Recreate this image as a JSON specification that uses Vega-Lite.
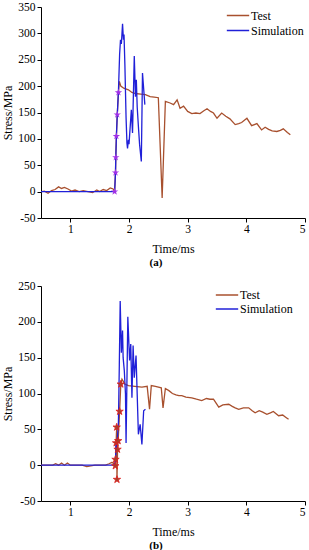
{
  "$schema": "https://vega.github.io/schema/vega-lite/v6.json",
  "padding": {"left": 1, "top": 1, "right": 2, "bottom": 1},
  "background": "white",
  "config": {
    "locale": {"number": {"decimal": ".", "thousands": ",", "grouping": [3], "currency": ["$", ""], "minus": "-"}},
    "view": {"stroke": null},
    "font": "Liberation Serif, Times New Roman, serif",
    "axis": {
      "domainColor": "#000000", "tickColor": "#000000", "labelColor": "#000000", "titleColor": "#000000",
      "labelFont": "Liberation Serif, Times New Roman, serif", "titleFont": "Liberation Serif, Times New Roman, serif",
      "labelFontSize": 11.5, "titleFontSize": 12, "titleFontWeight": "normal",
      "grid": false, "domainWidth": 1, "tickWidth": 1, "labelOverlap": false
    },
    "legend": {"labelFont": "Liberation Serif, Times New Roman, serif", "labelFontSize": 12, "labelColor": "#000000"}
  },
  "datasets": {
    "a": [
      {"t": 0.50, "v": 0, "series": "Test"}, {"t": 0.56, "v": 1, "series": "Test"}, {"t": 0.62, "v": -3, "series": "Test"},
      {"t": 0.68, "v": 2, "series": "Test"}, {"t": 0.74, "v": 4, "series": "Test"}, {"t": 0.80, "v": 9, "series": "Test"},
      {"t": 0.85, "v": 6, "series": "Test"}, {"t": 0.90, "v": 8, "series": "Test"}, {"t": 0.96, "v": 5, "series": "Test"},
      {"t": 1.02, "v": 1, "series": "Test"}, {"t": 1.08, "v": 3, "series": "Test"}, {"t": 1.15, "v": 0, "series": "Test"},
      {"t": 1.22, "v": 2, "series": "Test"}, {"t": 1.30, "v": 0, "series": "Test"}, {"t": 1.38, "v": -2, "series": "Test"},
      {"t": 1.45, "v": 3, "series": "Test"}, {"t": 1.50, "v": 0, "series": "Test"}, {"t": 1.56, "v": 4, "series": "Test"},
      {"t": 1.62, "v": 2, "series": "Test"}, {"t": 1.68, "v": 7, "series": "Test"}, {"t": 1.73, "v": 5, "series": "Test"},
      {"t": 1.755, "v": 0, "series": "Test"}, {"t": 1.77, "v": 36, "series": "Test"}, {"t": 1.775, "v": 65, "series": "Test"},
      {"t": 1.785, "v": 105, "series": "Test"}, {"t": 1.80, "v": 146, "series": "Test"}, {"t": 1.82, "v": 188, "series": "Test"},
      {"t": 1.835, "v": 209, "series": "Test"}, {"t": 1.86, "v": 200, "series": "Test"}, {"t": 1.91, "v": 196, "series": "Test"},
      {"t": 1.99, "v": 193, "series": "Test"}, {"t": 2.05, "v": 188, "series": "Test"}, {"t": 2.11, "v": 186, "series": "Test"},
      {"t": 2.20, "v": 185, "series": "Test"}, {"t": 2.28, "v": 184, "series": "Test"}, {"t": 2.36, "v": 180, "series": "Test"},
      {"t": 2.43, "v": 179, "series": "Test"}, {"t": 2.50, "v": 178, "series": "Test"}, {"t": 2.565, "v": -12, "series": "Test"},
      {"t": 2.62, "v": 171, "series": "Test"}, {"t": 2.70, "v": 168, "series": "Test"}, {"t": 2.76, "v": 165, "series": "Test"},
      {"t": 2.82, "v": 174, "series": "Test"}, {"t": 2.87, "v": 158, "series": "Test"}, {"t": 2.93, "v": 162, "series": "Test"},
      {"t": 3.00, "v": 152, "series": "Test"}, {"t": 3.07, "v": 148, "series": "Test"}, {"t": 3.14, "v": 149, "series": "Test"},
      {"t": 3.21, "v": 148, "series": "Test"}, {"t": 3.27, "v": 153, "series": "Test"}, {"t": 3.33, "v": 157, "series": "Test"},
      {"t": 3.39, "v": 152, "series": "Test"}, {"t": 3.44, "v": 149, "series": "Test"}, {"t": 3.50, "v": 139, "series": "Test"},
      {"t": 3.58, "v": 149, "series": "Test"}, {"t": 3.65, "v": 143, "series": "Test"}, {"t": 3.72, "v": 138, "series": "Test"},
      {"t": 3.81, "v": 127, "series": "Test"}, {"t": 3.87, "v": 129, "series": "Test"}, {"t": 3.92, "v": 131, "series": "Test"},
      {"t": 4.01, "v": 139, "series": "Test"}, {"t": 4.09, "v": 125, "series": "Test"}, {"t": 4.18, "v": 129, "series": "Test"},
      {"t": 4.26, "v": 117, "series": "Test"}, {"t": 4.32, "v": 122, "series": "Test"}, {"t": 4.38, "v": 118, "series": "Test"},
      {"t": 4.44, "v": 115, "series": "Test"}, {"t": 4.52, "v": 114, "series": "Test"}, {"t": 4.58, "v": 116, "series": "Test"},
      {"t": 4.63, "v": 119, "series": "Test"}, {"t": 4.70, "v": 112, "series": "Test"}, {"t": 4.75, "v": 108, "series": "Test"},
      {"t": 0.50, "v": 0, "series": "Simulation"}, {"t": 1.74, "v": 0, "series": "Simulation"}, {"t": 1.755, "v": 0, "series": "Simulation"},
      {"t": 1.77, "v": 36, "series": "Simulation"}, {"t": 1.775, "v": 65, "series": "Simulation"}, {"t": 1.785, "v": 105, "series": "Simulation"},
      {"t": 1.80, "v": 146, "series": "Simulation"}, {"t": 1.82, "v": 190, "series": "Simulation"}, {"t": 1.84, "v": 260, "series": "Simulation"},
      {"t": 1.855, "v": 288, "series": "Simulation"}, {"t": 1.87, "v": 280, "series": "Simulation"}, {"t": 1.89, "v": 318, "series": "Simulation"},
      {"t": 1.905, "v": 288, "series": "Simulation"}, {"t": 1.915, "v": 298, "series": "Simulation"}, {"t": 1.93, "v": 240, "series": "Simulation"},
      {"t": 1.95, "v": 140, "series": "Simulation"}, {"t": 1.965, "v": 92, "series": "Simulation"}, {"t": 1.975, "v": 82, "series": "Simulation"},
      {"t": 1.99, "v": 98, "series": "Simulation"}, {"t": 2.00, "v": 90, "series": "Simulation"}, {"t": 2.04, "v": 155, "series": "Simulation"},
      {"t": 2.06, "v": 111, "series": "Simulation"}, {"t": 2.09, "v": 257, "series": "Simulation"}, {"t": 2.11, "v": 180, "series": "Simulation"},
      {"t": 2.125, "v": 212, "series": "Simulation"}, {"t": 2.14, "v": 160, "series": "Simulation"}, {"t": 2.16, "v": 124, "series": "Simulation"},
      {"t": 2.18, "v": 90, "series": "Simulation"}, {"t": 2.21, "v": 57, "series": "Simulation"}, {"t": 2.23, "v": 225, "series": "Simulation"},
      {"t": 2.25, "v": 195, "series": "Simulation"}, {"t": 2.27, "v": 165, "series": "Simulation"}
    ],
    "a_stars": [
      {"t": 1.755, "v": 0}, {"t": 1.77, "v": 36}, {"t": 1.775, "v": 65}, {"t": 1.785, "v": 105}, {"t": 1.80, "v": 146}, {"t": 1.82, "v": 188}
    ],
    "b": [
      {"t": 0.50, "v": 0, "series": "Test"}, {"t": 0.70, "v": 0, "series": "Test"}, {"t": 0.75, "v": 2, "series": "Test"},
      {"t": 0.80, "v": 0, "series": "Test"}, {"t": 0.85, "v": 3, "series": "Test"}, {"t": 0.90, "v": 0, "series": "Test"},
      {"t": 0.95, "v": 3, "series": "Test"}, {"t": 1.00, "v": 0, "series": "Test"}, {"t": 1.20, "v": 0, "series": "Test"},
      {"t": 1.28, "v": -2, "series": "Test"}, {"t": 1.35, "v": -1, "series": "Test"}, {"t": 1.42, "v": 0, "series": "Test"},
      {"t": 1.60, "v": 0, "series": "Test"}, {"t": 1.66, "v": 2, "series": "Test"}, {"t": 1.71, "v": 4, "series": "Test"},
      {"t": 1.74, "v": 2, "series": "Test"}, {"t": 1.766, "v": -1, "series": "Test"}, {"t": 1.77, "v": 8, "series": "Test"},
      {"t": 1.78, "v": 31, "series": "Test"}, {"t": 1.79, "v": 53, "series": "Test"}, {"t": 1.795, "v": -20, "series": "Test"},
      {"t": 1.805, "v": 22, "series": "Test"}, {"t": 1.815, "v": 34, "series": "Test"}, {"t": 1.84, "v": 75, "series": "Test"},
      {"t": 1.86, "v": 113, "series": "Test"}, {"t": 1.88, "v": 120, "series": "Test"}, {"t": 1.93, "v": 113, "series": "Test"},
      {"t": 1.99, "v": 111, "series": "Test"}, {"t": 2.10, "v": 110, "series": "Test"}, {"t": 2.22, "v": 109, "series": "Test"},
      {"t": 2.31, "v": 110, "series": "Test"}, {"t": 2.35, "v": 78, "series": "Test"}, {"t": 2.38, "v": 111, "series": "Test"},
      {"t": 2.45, "v": 110, "series": "Test"}, {"t": 2.55, "v": 108, "series": "Test"}, {"t": 2.58, "v": 80, "series": "Test"},
      {"t": 2.62, "v": 107, "series": "Test"}, {"t": 2.68, "v": 104, "series": "Test"}, {"t": 2.74, "v": 100, "series": "Test"},
      {"t": 2.80, "v": 98, "series": "Test"}, {"t": 2.85, "v": 97, "series": "Test"}, {"t": 2.90, "v": 97, "series": "Test"},
      {"t": 2.97, "v": 95, "series": "Test"}, {"t": 3.07, "v": 94, "series": "Test"}, {"t": 3.15, "v": 92, "series": "Test"},
      {"t": 3.24, "v": 90, "series": "Test"}, {"t": 3.32, "v": 93, "series": "Test"}, {"t": 3.38, "v": 92, "series": "Test"},
      {"t": 3.44, "v": 92, "series": "Test"}, {"t": 3.53, "v": 81, "series": "Test"}, {"t": 3.60, "v": 84, "series": "Test"},
      {"t": 3.70, "v": 85, "series": "Test"}, {"t": 3.76, "v": 82, "series": "Test"}, {"t": 3.81, "v": 80, "series": "Test"},
      {"t": 3.87, "v": 78, "series": "Test"}, {"t": 3.95, "v": 80, "series": "Test"}, {"t": 4.04, "v": 80, "series": "Test"},
      {"t": 4.10, "v": 76, "series": "Test"}, {"t": 4.15, "v": 73, "series": "Test"}, {"t": 4.22, "v": 76, "series": "Test"},
      {"t": 4.28, "v": 74, "series": "Test"}, {"t": 4.35, "v": 71, "series": "Test"}, {"t": 4.41, "v": 73, "series": "Test"},
      {"t": 4.46, "v": 75, "series": "Test"}, {"t": 4.55, "v": 69, "series": "Test"}, {"t": 4.62, "v": 70, "series": "Test"},
      {"t": 4.67, "v": 67, "series": "Test"}, {"t": 4.72, "v": 64, "series": "Test"},
      {"t": 0.50, "v": 0, "series": "Simulation"}, {"t": 1.74, "v": 0, "series": "Simulation"}, {"t": 1.76, "v": 3, "series": "Simulation"},
      {"t": 1.77, "v": 10, "series": "Simulation"}, {"t": 1.78, "v": 30, "series": "Simulation"}, {"t": 1.79, "v": 20, "series": "Simulation"},
      {"t": 1.80, "v": 35, "series": "Simulation"}, {"t": 1.82, "v": 60, "series": "Simulation"}, {"t": 1.835, "v": 140, "series": "Simulation"},
      {"t": 1.85, "v": 229, "series": "Simulation"}, {"t": 1.87, "v": 157, "series": "Simulation"}, {"t": 1.89, "v": 188, "series": "Simulation"},
      {"t": 1.90, "v": 150, "series": "Simulation"}, {"t": 1.92, "v": 132, "series": "Simulation"}, {"t": 1.94, "v": 99, "series": "Simulation"},
      {"t": 1.95, "v": 31, "series": "Simulation"}, {"t": 1.98, "v": 207, "series": "Simulation"}, {"t": 2.01, "v": 146, "series": "Simulation"},
      {"t": 2.03, "v": 169, "series": "Simulation"}, {"t": 2.05, "v": 94, "series": "Simulation"}, {"t": 2.07, "v": 167, "series": "Simulation"},
      {"t": 2.09, "v": 122, "series": "Simulation"}, {"t": 2.12, "v": 153, "series": "Simulation"}, {"t": 2.16, "v": 43, "series": "Simulation"},
      {"t": 2.19, "v": 57, "series": "Simulation"}, {"t": 2.22, "v": 29, "series": "Simulation"}, {"t": 2.25, "v": 76, "series": "Simulation"},
      {"t": 2.28, "v": 78, "series": "Simulation"}
    ],
    "b_stars": [
      {"t": 1.766, "v": -1}, {"t": 1.77, "v": 8}, {"t": 1.78, "v": 31}, {"t": 1.79, "v": 53}, {"t": 1.795, "v": -20},
      {"t": 1.805, "v": 22}, {"t": 1.815, "v": 34}, {"t": 1.84, "v": 75}, {"t": 1.86, "v": 113}
    ]
  },
  "spacing": 12,
  "resolve": {"legend": {"color": "independent"}, "scale": {"y": "independent"}},
  "vconcat": [
    {
      "width": 264, "height": 211,
      "title": {"text": "(a)", "orient": "bottom", "anchor": "middle", "dx": -17, "fontSize": 11, "fontWeight": "bold", "font": "Liberation Serif, Times New Roman, serif", "offset": 2, "color": "#000000"},
      "encoding": {
        "x": {"field": "t", "type": "quantitative", "scale": {"domain": [0.5, 5], "nice": false},
              "axis": {"title": "Time/ms", "values": [1, 2, 3, 4, 5], "format": "d", "labelOverlap": false, "tickSize": 4, "labelPadding": 1, "titlePadding": 9}},
        "y": {"field": "v", "type": "quantitative", "scale": {"domain": [-50, 350], "nice": false},
              "axis": {"title": "Stress/MPa", "values": [-50, 0, 50, 100, 150, 200, 250, 300, 350], "format": "d", "labelOverlap": false, "tickSize": 4, "labelPadding": 2, "titlePadding": 3}}
      },
      "layer": [
        {
          "data": {"name": "a"},
          "mark": {"type": "line", "strokeWidth": 1.3},
          "encoding": {
            "color": {"field": "series", "type": "nominal", "sort": ["Test", "Simulation"],
                      "scale": {"domain": ["Test", "Simulation"], "range": ["#a8502e", "#2020d8"]},
                      "legend": {"title": null, "orient": "none", "legendX": 185, "legendY": 1, "symbolType": "stroke", "symbolSize": 500, "symbolStrokeWidth": 1.3, "rowPadding": 0, "clipHeight": 15, "labelOffset": 1}}
          }
        },
        {
          "data": {"name": "a_stars"},
          "mark": {"type": "point", "shape": "M0,-1L0.2245,-0.309L0.951,-0.309L0.363,0.118L0.588,0.809L0,0.382L-0.588,0.809L-0.363,0.118L-0.951,-0.309L-0.2245,-0.309Z", "filled": true, "color": "#a030e8", "size": 60, "opacity": 1},
          "encoding": {}
        }
      ]
    },
    {
      "width": 264, "height": 215,
      "title": {"text": "(b)", "orient": "bottom", "anchor": "middle", "dx": -17, "fontSize": 11, "fontWeight": "bold", "font": "Liberation Serif, Times New Roman, serif", "offset": 2, "color": "#000000"},
      "encoding": {
        "x": {"field": "t", "type": "quantitative", "scale": {"domain": [0.5, 5], "nice": false},
              "axis": {"title": "Time/ms", "values": [1, 2, 3, 4, 5], "format": "d", "labelOverlap": false, "tickSize": 4, "labelPadding": 1, "titlePadding": 9}},
        "y": {"field": "v", "type": "quantitative", "scale": {"domain": [-50, 250], "nice": false},
              "axis": {"title": "Stress/MPa", "values": [-50, 0, 50, 100, 150, 200, 250], "format": "d", "labelOverlap": false, "tickSize": 4, "labelPadding": 2, "titlePadding": 3}}
      },
      "layer": [
        {
          "data": {"name": "b"},
          "mark": {"type": "line", "strokeWidth": 1.3},
          "encoding": {
            "color": {"field": "series", "type": "nominal", "sort": ["Test", "Simulation"],
                      "scale": {"domain": ["Test", "Simulation"], "range": ["#b04a2a", "#2020d8"]},
                      "legend": {"title": null, "orient": "none", "legendX": 174, "legendY": 2, "symbolType": "stroke", "symbolSize": 500, "symbolStrokeWidth": 1.3, "rowPadding": 0, "clipHeight": 14, "labelOffset": 1}}
          }
        },
        {
          "data": {"name": "b_stars"},
          "mark": {"type": "point", "shape": "M0,-1L0.2245,-0.309L0.951,-0.309L0.363,0.118L0.588,0.809L0,0.382L-0.588,0.809L-0.363,0.118L-0.951,-0.309L-0.2245,-0.309Z", "filled": true, "color": "#a8402a", "stroke": "#e02020", "strokeWidth": 0.8, "size": 60, "opacity": 1},
          "encoding": {}
        }
      ]
    }
  ]
}
